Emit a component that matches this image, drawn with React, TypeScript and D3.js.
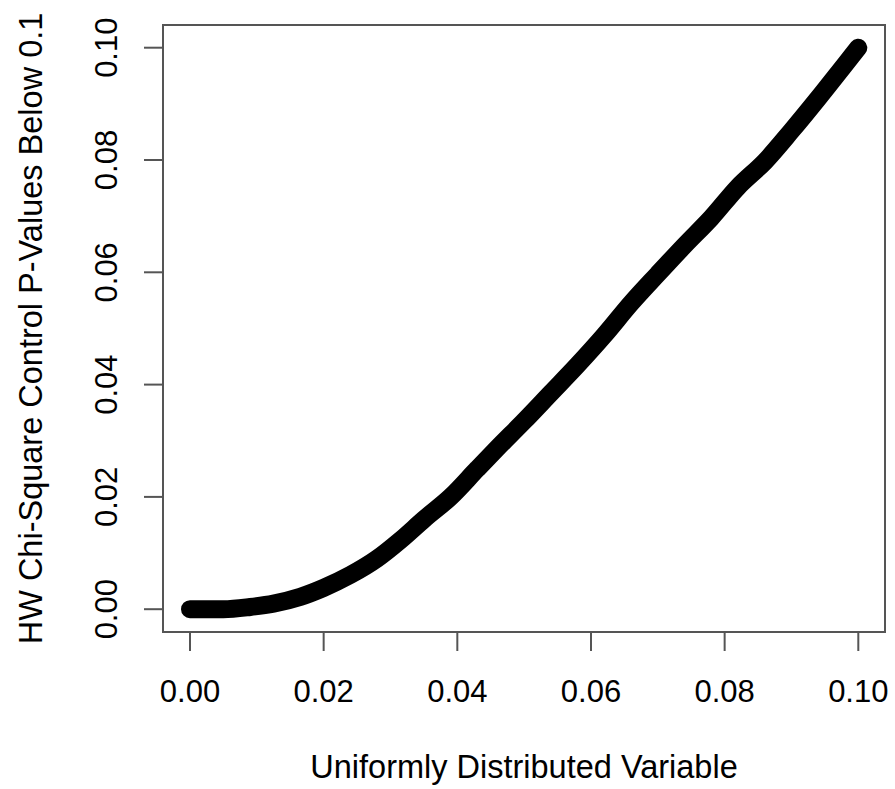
import React from "react";
import * as d3 from "d3";

const xValues = [0, 0.005, 0.009, 0.0125, 0.0165, 0.02, 0.024, 0.028, 0.0315, 0.035, 0.039, 0.043, 0.046, 0.05, 0.054, 0.058, 0.062, 0.066, 0.07, 0.074, 0.078, 0.082, 0.086, 0.09, 0.094, 0.098, 0.1];
const yValues = [0, 0.0, 0.0004, 0.001, 0.0022, 0.0038, 0.0061, 0.009, 0.0123, 0.016, 0.02, 0.025, 0.0287, 0.0335, 0.0385, 0.0435, 0.0488, 0.0545, 0.0597, 0.0648, 0.0697, 0.0752, 0.0797, 0.0852, 0.091, 0.097, 0.1];
const xTicks = [0, 0.02, 0.04, 0.06, 0.08, 0.1];
const yTicks = [0, 0.02, 0.04, 0.06, 0.08, 0.1];
const xTitle = "Uniformly Distributed Variable";
const yTitle = "HW Chi-Square Control P-Values Below 0.1";

export default function App() {
  const W = 895, H = 789;
  const box = { left: 163, right: 885, top: 25, bottom: 632 };
  const x = d3.scaleLinear().domain([0, 0.1]).range([190, 858.3]);
  const y = d3.scaleLinear().domain([0, 0.1]).range([609.2, 47.7]);
  const pts = xValues.map((v, i) => [v, yValues[i]] as [number, number]);
  const line = d3.line<[number, number]>().x(d => x(d[0])).y(d => y(d[1])).curve(d3.curveMonotoneX);
  const font = "'Liberation Sans', Arial, Helvetica, sans-serif";
  const axisColor = "#555";
  return (
    <svg width={W} height={H} style={{ position: "absolute", left: 0, top: 0, background: "#fff" }} fontFamily={font}>
      <rect x={0} y={0} width={W} height={H} fill="#fff" />
      <path d={line(pts) || ""} fill="none" stroke="#000" strokeWidth={18} strokeLinecap="round" strokeLinejoin="round" />
      <rect x={box.left} y={box.top} width={box.right - box.left} height={box.bottom - box.top} fill="none" stroke={axisColor} strokeWidth={2} />
      {/* x axis */}
      <line x1={x(0)} x2={x(0.1)} y1={box.bottom} y2={box.bottom} stroke={axisColor} strokeWidth={2} />
      {xTicks.map(t => (
        <g key={"xt" + t}>
          <line x1={x(t)} x2={x(t)} y1={box.bottom} y2={box.bottom + 19} stroke={axisColor} strokeWidth={2} />
          <text x={x(t)} y={702} fontSize={31} textAnchor="middle" fill="#000">{t.toFixed(2)}</text>
        </g>
      ))}
      {/* y axis */}
      <line x1={box.left} x2={box.left} y1={y(0)} y2={y(0.1)} stroke={axisColor} strokeWidth={2} />
      {yTicks.map(t => (
        <g key={"yt" + t}>
          <line x1={box.left} x2={box.left - 19} y1={y(t)} y2={y(t)} stroke={axisColor} strokeWidth={2} />
          <text transform={`translate(117,${y(t)}) rotate(-90)`} fontSize={31} textAnchor="middle" fill="#000">{t.toFixed(2)}</text>
        </g>
      ))}
      <text x={(box.left + box.right) / 2} y={778} fontSize={32.5} textAnchor="middle" fill="#000">{xTitle}</text>
      <text transform={`translate(42,${(box.top + box.bottom) / 2}) rotate(-90)`} fontSize={32.5} textAnchor="middle" fill="#000">{yTitle}</text>
    </svg>
  );
}
